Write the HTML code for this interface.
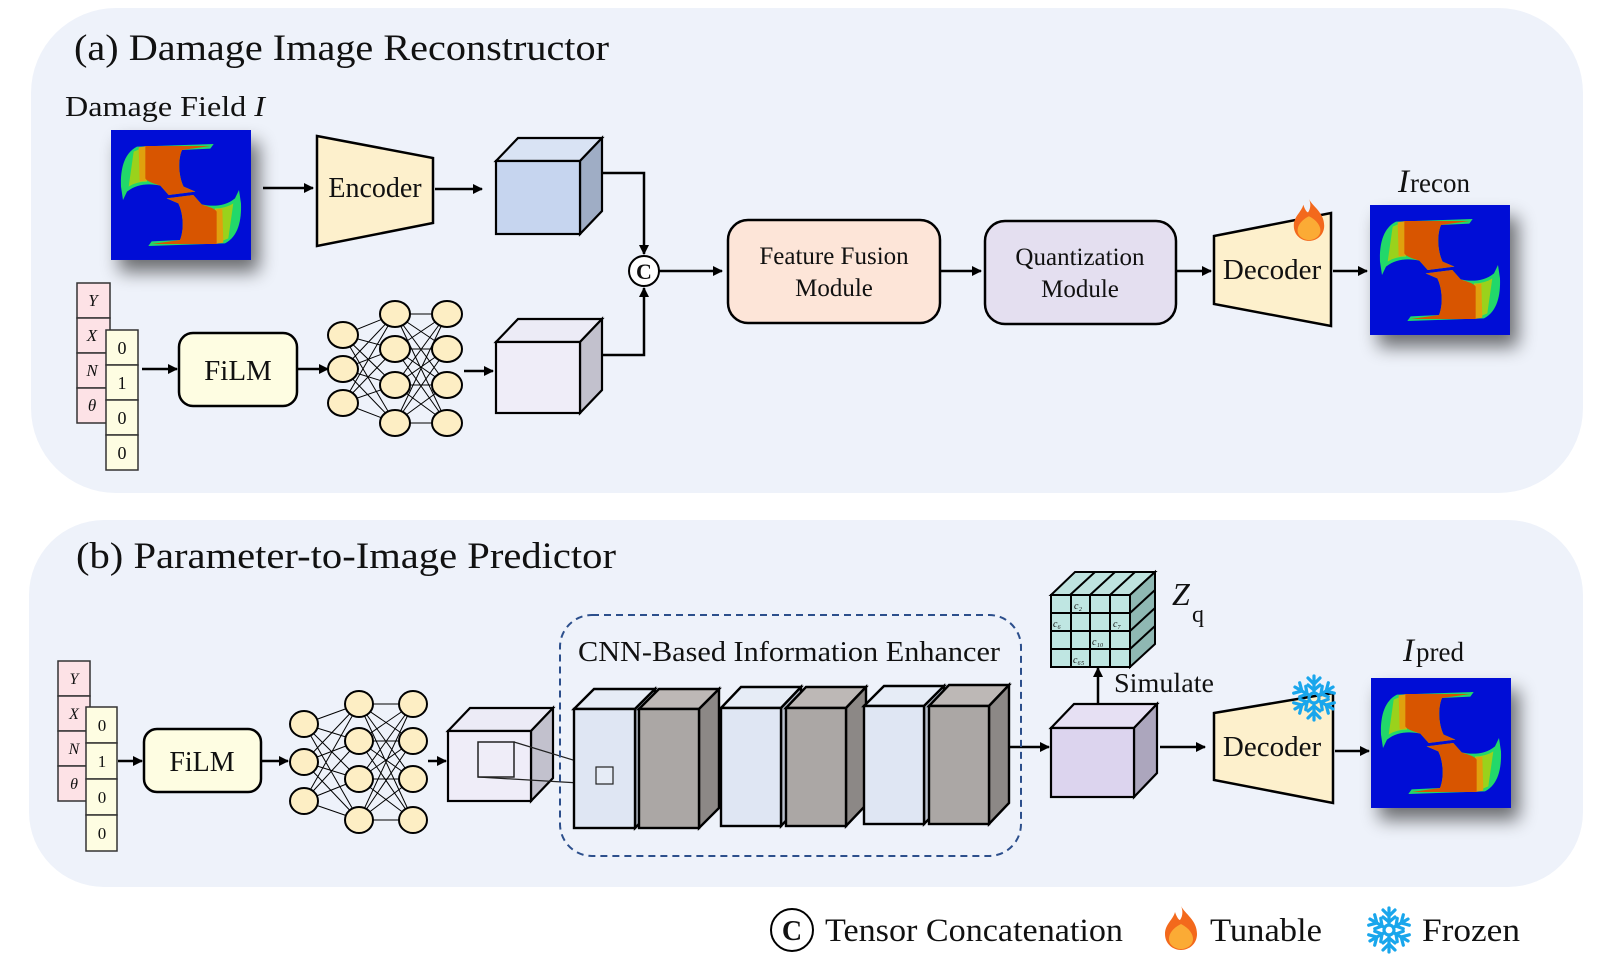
<!DOCTYPE html>
<html><head><meta charset="utf-8"><style>
html,body{margin:0;padding:0;background:#fff;}
svg{display:block;}
text{font-family:"Liberation Serif",serif;fill:#111;}
</style></head><body>
<svg width="1599" height="960" viewBox="0 0 1599 960" xmlns="http://www.w3.org/2000/svg">
<defs>
<marker id="ar" markerWidth="10" markerHeight="10" refX="9" refY="5" orient="auto" markerUnits="userSpaceOnUse">
<path d="M0,0 L10,5 L0,10 Z" fill="#000"/></marker>
<filter id="sh" x="-30%" y="-30%" width="170%" height="170%">
<feGaussianBlur in="SourceAlpha" stdDeviation="9"/><feOffset dx="8" dy="12"/>
<feComponentTransfer><feFuncA type="linear" slope="0.55"/></feComponentTransfer>
<feMerge><feMergeNode/><feMergeNode in="SourceGraphic"/></feMerge></filter>
<g id="dmg">
<rect x="32" y="30" width="420" height="390" fill="#0010d6"/>
<g id="half">
<path d="M62,200 C60,150 70,100 110,80 L340,72 L330,86 L245,90 C232,120 235,170 250,200 L285,215 L205,225 L180,197 C150,190 110,190 80,215 L68,240 Z" fill="#22d86a"/>
<path d="M100,95 L140,78 L140,185 C120,185 100,190 85,200 Z" fill="#9ad21a"/>
<path d="M115,82 L140,78 L138,182 L118,184 Z" fill="#e0a010"/>
<path d="M135,78 L330,78 L245,90 C232,120 235,170 250,200 L285,215 L205,225 L180,197 C160,190 140,185 135,175 Z" fill="#d85500"/>
</g>
<use href="#half" transform="rotate(180 242 225)"/>
</g>
<g id="flake" stroke="#19a6ec" stroke-width="3.2" stroke-linecap="round" fill="none">
<g id="arm"><line x1="0" y1="-5" x2="0" y2="-22"/><path d="M-6,-20 L0,-14 L6,-20"/><path d="M-6,-13 L0,-8 L6,-13" /></g>
<use href="#arm" transform="rotate(60)"/><use href="#arm" transform="rotate(120)"/><use href="#arm" transform="rotate(180)"/><use href="#arm" transform="rotate(240)"/><use href="#arm" transform="rotate(300)"/>
<circle r="5"/>
</g>
<g id="flame">
<path d="M0,-22 C4,-14 16,-8 16,6 C16,16 8,22 0,22 C-8,22 -16,16 -16,6 C-16,-4 -8,-8 -6,-16 C-4,-10 -2,-8 -1,-8 C2,-12 2,-18 0,-22 Z" fill="#f3691c"/>
<path d="M0,-4 C8,0 12,6 12,11 C12,17 6,21 0,21 C-6,21 -12,17 -12,11 C-12,4 -6,-1 0,-4 Z" fill="#fbab35"/>
</g>
</defs>

<rect x="31" y="8" width="1552" height="485" rx="85" fill="#eef2fa"/>
<rect x="29" y="520" width="1554" height="367" rx="75" fill="#eef2fa"/>

<text x="74" y="60" font-size="37" textLength="535" lengthAdjust="spacingAndGlyphs">(a) Damage Image Reconstructor</text>
<text x="65" y="116" font-size="29" textLength="200" lengthAdjust="spacingAndGlyphs">Damage Field <tspan font-style="italic">I</tspan></text>
<text x="76" y="568" font-size="37" textLength="540" lengthAdjust="spacingAndGlyphs">(b) Parameter-to-Image Predictor</text>

<g filter="url(#sh)"><use href="#dmg" transform="translate(111,130) scale(0.3333,0.3333) translate(-32,-30)"/></g>
<g filter="url(#sh)"><use href="#dmg" transform="translate(1370,205) scale(0.3333,0.3333) translate(-32,-30)"/></g>
<g filter="url(#sh)"><use href="#dmg" transform="translate(1371,678) scale(0.3333,0.3333) translate(-32,-30)"/></g>

<g stroke="#000" stroke-width="2.5" fill="none">
<line x1="263" y1="188" x2="313" y2="188" marker-end="url(#ar)"/>
<line x1="435" y1="189" x2="482" y2="189" marker-end="url(#ar)"/>
<path d="M602,173 L644,173 L644,254" marker-end="url(#ar)"/>
<path d="M602,355 L644,355 L644,288" marker-end="url(#ar)"/>
<line x1="659" y1="271" x2="722" y2="271" marker-end="url(#ar)"/>
<line x1="940" y1="271" x2="981" y2="271" marker-end="url(#ar)"/>
<line x1="1176" y1="271" x2="1211" y2="271" marker-end="url(#ar)"/>
<line x1="1333" y1="271" x2="1367" y2="271" marker-end="url(#ar)"/>
<line x1="142" y1="369" x2="177" y2="369" marker-end="url(#ar)"/>
<line x1="297" y1="369" x2="328" y2="369" marker-end="url(#ar)"/>
<line x1="464" y1="371" x2="493" y2="371" marker-end="url(#ar)"/>
<line x1="118" y1="761" x2="142" y2="761" marker-end="url(#ar)"/>
<line x1="261" y1="761" x2="288" y2="761" marker-end="url(#ar)"/>
<line x1="428" y1="761" x2="446" y2="761" marker-end="url(#ar)"/>
<line x1="1008" y1="747" x2="1049" y2="747" marker-end="url(#ar)"/>
<line x1="1160" y1="747" x2="1205" y2="747" marker-end="url(#ar)"/>
<line x1="1335" y1="751" x2="1369" y2="751" marker-end="url(#ar)"/>
<line x1="1098" y1="703" x2="1098" y2="668" marker-end="url(#ar)"/>
</g>

<path d="M317,136 L433,158 L433,223 L317,246 Z" fill="#fdf0cc" stroke="#000" stroke-width="2.5"/>
<text x="375" y="197" font-size="28" text-anchor="middle">Encoder</text>

<g stroke="#000" stroke-width="2.2">
<path d="M496,161 L518,138 L602,138 L580,161 Z" fill="#d9e3f4"/>
<path d="M580,161 L602,138 L602,211 L580,234 Z" fill="#9fadc5"/>
<rect x="496" y="161" width="84" height="73" fill="#c6d5ef"/>
<path d="M496,342 L518,319 L602,319 L580,342 Z" fill="#ecebf6"/>
<path d="M580,342 L602,319 L602,390 L580,413 Z" fill="#c2c1cd"/>
<rect x="496" y="342" width="84" height="71" fill="#efedf8"/>
</g>
<circle cx="644" cy="271" r="15" fill="#fff" stroke="#000" stroke-width="2"/>
<text x="644" y="279" font-size="22" font-weight="bold" text-anchor="middle">C</text>

<rect x="728" y="220" width="212" height="103" rx="20" fill="#fde5d8" stroke="#000" stroke-width="2.5"/>
<text x="834" y="264" font-size="25" text-anchor="middle">Feature Fusion</text>
<text x="834" y="296" font-size="25" text-anchor="middle">Module</text>
<rect x="985" y="221" width="191" height="103" rx="20" fill="#e4dff0" stroke="#000" stroke-width="2.5"/>
<text x="1080" y="265" font-size="25" text-anchor="middle">Quantization</text>
<text x="1080" y="297" font-size="25" text-anchor="middle">Module</text>

<path d="M1214,236 L1331,213 L1331,326 L1214,304 Z" fill="#fdf0cc" stroke="#000" stroke-width="2.5"/>
<text x="1272" y="279" font-size="29" text-anchor="middle">Decoder</text>
<use href="#flame" transform="translate(1309,220) scale(0.95)"/>
<text x="1398" y="192" font-size="33" font-style="italic">I</text><text x="1410" y="192" font-size="27">recon</text>

<g stroke="#333" stroke-width="1.5">
<rect x="77" y="283" width="33" height="35" fill="#fde2e6"/><rect x="77" y="318" width="33" height="35" fill="#fde2e6"/>
<rect x="77" y="353" width="33" height="35" fill="#fde2e6"/><rect x="77" y="388" width="33" height="35" fill="#fde2e6"/>
<rect x="106" y="330" width="32" height="35" fill="#fefde2"/><rect x="106" y="365" width="32" height="35" fill="#fefde2"/>
<rect x="106" y="400" width="32" height="35" fill="#fefde2"/><rect x="106" y="435" width="32" height="35" fill="#fefde2"/>
</g>
<g font-size="17" font-style="italic"><text x="93" y="306" text-anchor="middle">Y</text><text x="92" y="341" text-anchor="middle">X</text><text x="92" y="376" text-anchor="middle">N</text><text x="92" y="411" text-anchor="middle">θ</text></g>
<g font-size="18" style="font-family:'Liberation Sans',sans-serif"><text x="122" y="354" text-anchor="middle">0</text><text x="122" y="389" text-anchor="middle">1</text><text x="122" y="424" text-anchor="middle">0</text><text x="122" y="459" text-anchor="middle">0</text></g>
<rect x="179" y="333" width="118" height="73" rx="14" fill="#fefde2" stroke="#000" stroke-width="2.5"/>
<text x="238" y="380" font-size="29" text-anchor="middle">FiLM</text>

<g stroke="#000" stroke-width="1">
<path d="M343,335 L395,314 M343,335 L395,349 M343,335 L395,385 M343,335 L395,423 M343,369 L395,314 M343,369 L395,349 M343,369 L395,385 M343,369 L395,423 M343,403 L395,314 M343,403 L395,349 M343,403 L395,385 M343,403 L395,423 M395,314 L447,314 M395,314 L447,349 M395,314 L447,385 M395,314 L447,423 M395,349 L447,314 M395,349 L447,349 M395,349 L447,385 M395,349 L447,423 M395,385 L447,314 M395,385 L447,349 M395,385 L447,385 M395,385 L447,423 M395,423 L447,314 M395,423 L447,349 M395,423 L447,385 M395,423 L447,423"/>
<g fill="#fdeec4" stroke-width="2">
<ellipse cx="343" cy="335" rx="15" ry="13"/><ellipse cx="343" cy="369" rx="15" ry="13"/><ellipse cx="343" cy="403" rx="15" ry="13"/>
<ellipse cx="395" cy="314" rx="15" ry="13"/><ellipse cx="395" cy="349" rx="15" ry="13"/><ellipse cx="395" cy="385" rx="15" ry="13"/><ellipse cx="395" cy="423" rx="15" ry="13"/>
<ellipse cx="447" cy="314" rx="15" ry="13"/><ellipse cx="447" cy="349" rx="15" ry="13"/><ellipse cx="447" cy="385" rx="15" ry="13"/><ellipse cx="447" cy="423" rx="15" ry="13"/>
</g></g>

<g stroke="#333" stroke-width="1.5">
<rect x="58" y="661" width="32" height="35" fill="#fde2e6"/><rect x="58" y="696" width="32" height="35" fill="#fde2e6"/>
<rect x="58" y="731" width="32" height="35" fill="#fde2e6"/><rect x="58" y="766" width="32" height="35" fill="#fde2e6"/>
<rect x="86" y="707" width="31" height="36" fill="#fefde2"/><rect x="86" y="743" width="31" height="36" fill="#fefde2"/>
<rect x="86" y="779" width="31" height="36" fill="#fefde2"/><rect x="86" y="815" width="31" height="36" fill="#fefde2"/>
</g>
<g font-size="16" font-style="italic"><text x="74" y="684" text-anchor="middle">Y</text><text x="74" y="719" text-anchor="middle">X</text><text x="74" y="754" text-anchor="middle">N</text><text x="74" y="789" text-anchor="middle">θ</text></g>
<g font-size="17" style="font-family:'Liberation Sans',sans-serif"><text x="102" y="731" text-anchor="middle">0</text><text x="102" y="767" text-anchor="middle">1</text><text x="102" y="803" text-anchor="middle">0</text><text x="102" y="839" text-anchor="middle">0</text></g>
<rect x="144" y="729" width="117" height="63" rx="13" fill="#fefde2" stroke="#000" stroke-width="2.5"/>
<text x="202" y="771" font-size="28" text-anchor="middle">FiLM</text>

<g stroke="#000" stroke-width="1">
<path d="M304,724 L359,704 M304,724 L359,741 M304,724 L359,779 M304,724 L359,820 M304,762 L359,704 M304,762 L359,741 M304,762 L359,779 M304,762 L359,820 M304,801 L359,704 M304,801 L359,741 M304,801 L359,779 M304,801 L359,820 M359,704 L413,704 M359,704 L413,741 M359,704 L413,779 M359,704 L413,820 M359,741 L413,704 M359,741 L413,741 M359,741 L413,779 M359,741 L413,820 M359,779 L413,704 M359,779 L413,741 M359,779 L413,779 M359,779 L413,820 M359,820 L413,704 M359,820 L413,741 M359,820 L413,779 M359,820 L413,820"/>
<g fill="#fdeec4" stroke-width="2">
<ellipse cx="304" cy="724" rx="14" ry="13"/><ellipse cx="304" cy="762" rx="14" ry="13"/><ellipse cx="304" cy="801" rx="14" ry="13"/>
<ellipse cx="359" cy="704" rx="14" ry="13"/><ellipse cx="359" cy="741" rx="14" ry="13"/><ellipse cx="359" cy="779" rx="14" ry="13"/><ellipse cx="359" cy="820" rx="14" ry="13"/>
<ellipse cx="413" cy="704" rx="14" ry="13"/><ellipse cx="413" cy="741" rx="14" ry="13"/><ellipse cx="413" cy="779" rx="14" ry="13"/><ellipse cx="413" cy="820" rx="14" ry="13"/>
</g></g>

<g stroke="#000" stroke-width="2.2">
<path d="M448,731 L470,708 L553,708 L531,731 Z" fill="#ecebf6"/>
<path d="M531,731 L553,708 L553,778 L531,801 Z" fill="#c2c1cd"/>
<rect x="448" y="731" width="83" height="70" fill="#efedf8"/>
</g>
<rect x="478" y="742" width="36" height="35" fill="none" stroke="#222" stroke-width="1.5"/>
<path d="M514,742 L596,767 M478,777 L596,784" stroke="#222" stroke-width="1.2" fill="none"/>

<rect x="560" y="615" width="461" height="241" rx="32" fill="none" stroke="#2c4f8c" stroke-width="2" stroke-dasharray="7,5"/>
<text x="578" y="661" font-size="28" textLength="422" lengthAdjust="spacingAndGlyphs">CNN-Based Information Enhancer</text>

<g stroke="#000" stroke-width="2.4">
<path d="M574,709 L594,689 L655,689 L635,709 Z" fill="#e6ecf6"/><path d="M635,709 L655,689 L655,808 L635,828 Z" fill="#b8bfcc"/><rect x="574" y="709" width="61" height="119" fill="#dfe6f3"/>
<path d="M639,709 L659,689 L719,689 L699,709 Z" fill="#bdb8b6"/><path d="M699,709 L719,689 L719,808 L699,828 Z" fill="#8c8886"/><rect x="639" y="709" width="60" height="119" fill="#aba7a5"/>
<path d="M721,708 L741,687 L801,687 L781,708 Z" fill="#e6ecf6"/><path d="M781,708 L801,687 L801,805 L781,826 Z" fill="#b8bfcc"/><rect x="721" y="708" width="60" height="118" fill="#dfe6f3"/>
<path d="M786,708 L806,687 L866,687 L846,708 Z" fill="#bdb8b6"/><path d="M846,708 L866,687 L866,805 L846,826 Z" fill="#8c8886"/><rect x="786" y="708" width="60" height="118" fill="#aba7a5"/>
<path d="M864,706 L884,686 L944,686 L924,706 Z" fill="#e6ecf6"/><path d="M924,706 L944,686 L944,804 L924,824 Z" fill="#b8bfcc"/><rect x="864" y="706" width="60" height="118" fill="#dfe6f3"/>
<path d="M929,706 L949,685 L1009,685 L989,706 Z" fill="#bdb8b6"/><path d="M989,706 L1009,685 L1009,803 L989,824 Z" fill="#8c8886"/><rect x="929" y="706" width="60" height="118" fill="#aba7a5"/>
</g>
<rect x="596" y="767" width="17" height="17" fill="#e6ecf6" stroke="#222" stroke-width="1.2"/>

<g stroke="#000" stroke-width="2.2">
<path d="M1051,728 L1074,704 L1157,704 L1134,728 Z" fill="#e6e0f3"/>
<path d="M1134,728 L1157,704 L1157,773 L1134,797 Z" fill="#aca6bd"/>
<rect x="1051" y="728" width="83" height="69" fill="#dcd4ee"/>
</g>

<g stroke="#000" stroke-width="2">
<path d="M1051,595 L1075,572 L1155,572 L1130,595 Z" fill="#bfe3df"/>
<path d="M1070,595 L1095,572 M1090,595 L1115,572 M1110,595 L1135,572" fill="none"/>
<path d="M1130,595 L1155,572 L1155,644 L1130,667 Z" fill="#8fb8b3"/>
<path d="M1130,613 L1155,590 M1130,631 L1155,608 M1130,649 L1155,626" fill="none"/>
<rect x="1051" y="595" width="79" height="72" fill="#bfe6e2"/>
<path d="M1071,595 V667 M1090,595 V667 M1110,595 V667 M1051,613 H1130 M1051,631 H1130 M1051,649 H1130" fill="none"/>
</g>
<g font-size="10" font-style="italic" fill="#222"><text x="1074" y="609">c₂</text><text x="1053" y="627">c₆</text><text x="1113" y="627">c₇</text><text x="1092" y="645">c₁₀</text><text x="1073" y="663">c₆₅</text></g>
<text x="1172" y="605" font-size="32" font-style="italic">Z</text><text x="1192" y="622" font-size="24">q</text>
<text x="1114" y="692" font-size="27" textLength="100" lengthAdjust="spacingAndGlyphs">Simulate</text>

<path d="M1214,713 L1333,693 L1333,803 L1214,780 Z" fill="#fdf0cc" stroke="#000" stroke-width="2.5"/>
<text x="1272" y="756" font-size="29" text-anchor="middle">Decoder</text>
<use href="#flake" transform="translate(1314,698)"/>
<text x="1403" y="661" font-size="33" font-style="italic">I</text><text x="1416" y="661" font-size="27">pred</text>

<circle cx="792" cy="930" r="21" fill="#fff" stroke="#000" stroke-width="2"/>
<text x="792" y="940" font-size="28" font-weight="bold" text-anchor="middle">C</text>
<text x="825" y="941" font-size="33" textLength="298" lengthAdjust="spacingAndGlyphs">Tensor Concatenation</text>
<use href="#flame" transform="translate(1181,928)"/>
<text x="1210" y="941" font-size="33" textLength="112" lengthAdjust="spacingAndGlyphs">Tunable</text>
<use href="#flake" transform="translate(1389,930)"/>
<text x="1422" y="941" font-size="33" textLength="98" lengthAdjust="spacingAndGlyphs">Frozen</text>
</svg>
</body></html>
